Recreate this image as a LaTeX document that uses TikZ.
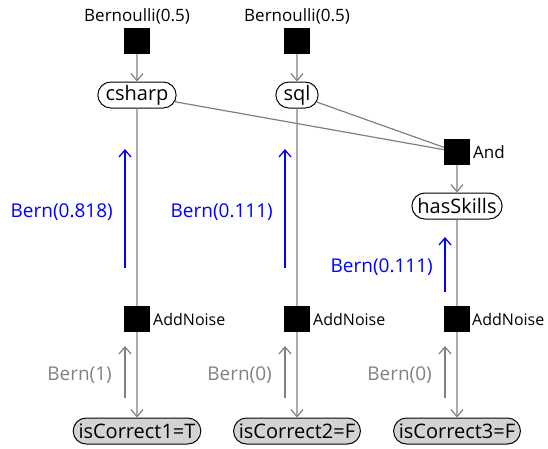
\documentclass[tikz,border=0pt]{standalone}
\usepackage{fontspec}
\setmainfont{Open Sans}
\usetikzlibrary{arrows.meta,shapes.misc}
\definecolor{edgegray}{HTML}{808080}
\definecolor{obsfill}{HTML}{D3D3D3}
\tikzset{
  x=1pt, y=-1pt,
  factor/.style={draw=none, fill=black, minimum size=26pt, inner sep=0pt},
  varnode/.style={rounded rectangle, draw=black, line width=1pt, minimum height=26pt, inner xsep=3pt, inner ysep=0pt, font=\fontsize{20}{22}\selectfont},
  obsnode/.style={varnode, fill=obsfill},
  flabel/.style={inner sep=0pt, font=\fontsize{17}{19}\selectfont},
  noiselabel/.style={flabel, anchor=west, font=\fontsize{16}{18}\selectfont},
  edge/.style={draw=edgegray, line width=1.2pt},
  arr/.style={edge, -{Straight Barb[length=7pt,width=12pt]}},
  msgblue/.style={draw=blue, line width=1.3pt, -{Straight Barb[length=7pt,width=12pt]}},
  msggray/.style={edge, -{Straight Barb[length=7pt,width=12pt]}},
  bluelabel/.style={text=blue, inner sep=0pt, font=\fontsize{19}{22}\selectfont},
  graylabel/.style={text=edgegray, inner sep=0pt, font=\fontsize{19}{22}\selectfont},
}
\begin{document}
\begin{tikzpicture}
\useasboundingbox (0,0) rectangle (548,448);

% priors
\node[flabel] (lb1) at (137,16) {Bernoulli(0.5)};
\node[flabel] (lb2) at (297,16) {Bernoulli(0.5)};
\node[factor] (f1) at (137,41) {};
\node[factor] (f2) at (297,41) {};

% variables
\node[varnode] (csharp) at (137,95) {csharp};
\node[varnode] (sql) at (297,95) {sql};
\node[factor] (and) at (457,152) {};
\node[flabel, anchor=west] (landlbl) at (473,152) {And};
\node[varnode] (skills) at (457,206) {hasSkills};

% noise factors
\node[factor] (n1) at (137,319) {};
\node[factor] (n2) at (297,319) {};
\node[factor] (n3) at (457,319) {};
\node[noiselabel] (ln1) at (153,319) {AddNoise};
\node[noiselabel] (ln2) at (313,319) {AddNoise};
\node[noiselabel] (ln3) at (472,319) {AddNoise};

% observations
\node[obsnode] (c1) at (137,431) {isCorrect1=T};
\node[obsnode] (c2) at (297,431) {isCorrect2=F};
\node[obsnode] (c3) at (457,431) {isCorrect3=F};

% edges
\draw[arr] (f1) -- (csharp);
\draw[arr] (f2) -- (sql);
\draw[edge] (csharp) -- (and);
\draw[edge] (sql) -- (and);
\draw[arr] (and) -- (skills);
\draw[edge] (csharp) -- (n1);
\draw[edge] (sql) -- (n2);
\draw[edge] (skills) -- (n3);
\draw[arr] (n1) -- (c1);
\draw[arr] (n2) -- (c2);
\draw[arr] (n3) -- (c3);

% messages
\coordinate (m1a) at (125,268); \coordinate (m1b) at (125,149);
\coordinate (m2a) at (285,268); \coordinate (m2b) at (285,149);
\coordinate (m3a) at (445,292); \coordinate (m3b) at (445,237);
\draw[msgblue] (m1a) -- (m1b);
\draw[msgblue] (m2a) -- (m2b);
\draw[msgblue] (m3a) -- (m3b);
\node[bluelabel, anchor=east] (b1) at (113,212) {Bern(0.818)};
\node[bluelabel, anchor=east] (b2) at (273,212) {Bern(0.111)};
\node[bluelabel, anchor=east] (b3) at (433,267) {Bern(0.111)};

\coordinate (g1a) at (125,398); \coordinate (g1b) at (125,346);
\coordinate (g2a) at (285,398); \coordinate (g2b) at (285,346);
\coordinate (g3a) at (445,398); \coordinate (g3b) at (445,346);
\draw[msggray] (g1a) -- (g1b);
\draw[msggray] (g2a) -- (g2b);
\draw[msggray] (g3a) -- (g3b);
\node[graylabel, anchor=east] (r1) at (112,375) {Bern(1)};
\node[graylabel, anchor=east] (r2) at (272,375) {Bern(0)};
\node[graylabel, anchor=east] (r3) at (432,375) {Bern(0)};
\end{tikzpicture}
\end{document}
